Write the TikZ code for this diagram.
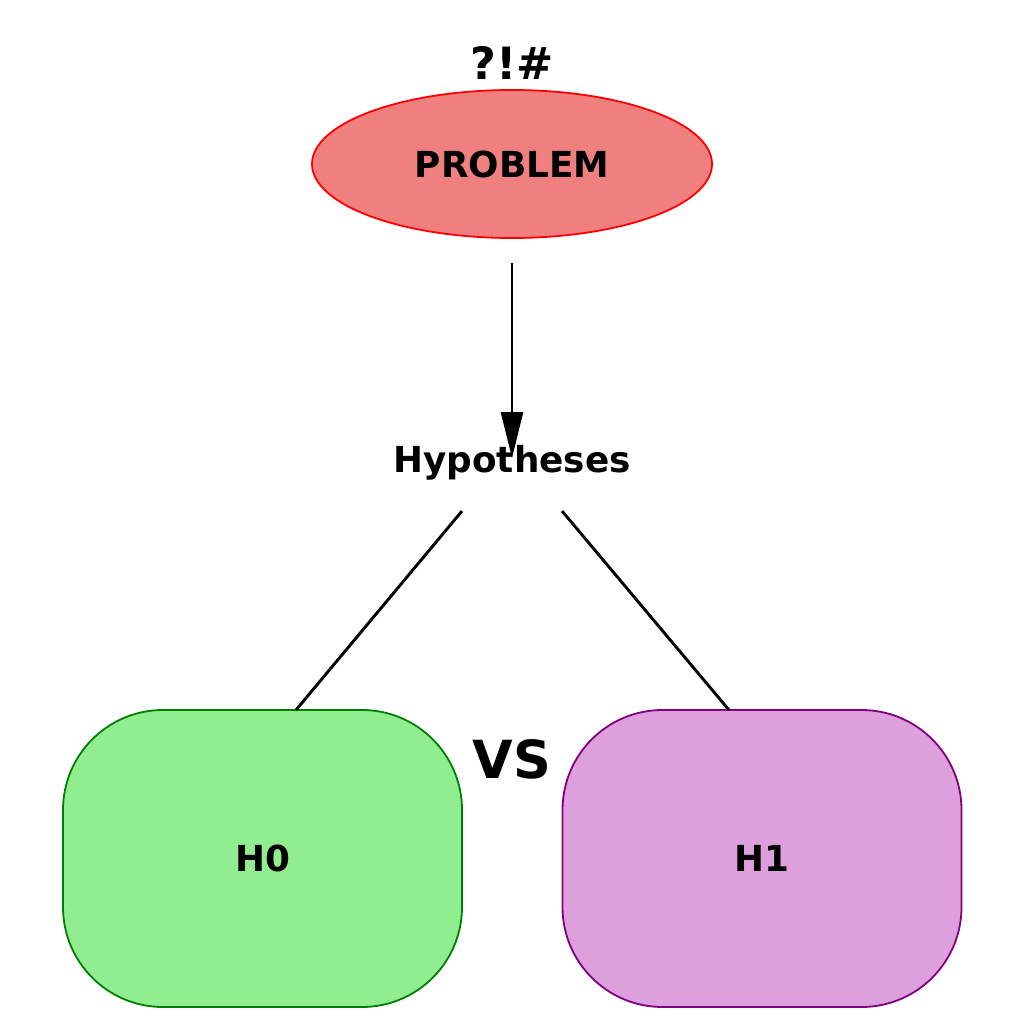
\documentclass[tikz,border=0pt]{standalone}
\usepackage{fontspec}
\setmainfont{DejaVu Sans}
\usetikzlibrary{shapes.geometric,arrows.meta}
\definecolor{lcoral}{HTML}{F08080}
\definecolor{lgreen}{HTML}{90EE90}
\definecolor{dgreen}{HTML}{008000}
\definecolor{plumc}{HTML}{DDA0DD}
\definecolor{purp}{HTML}{800080}
\tikzset{
  lbl/.style={font=\bfseries\fontsize{35.8}{42}\selectfont, inner sep=0pt},
  hbox/.style={rectangle, rounded corners=100pt, minimum width=399pt, minimum height=297pt, line width=1.8pt, inner sep=0pt, font=\bfseries\fontsize{35.8}{42}\selectfont},
  conn/.style={line width=2.9pt},
}
\begin{document}
\begin{tikzpicture}[x=1pt,y=-1pt]
\useasboundingbox (0,0) rectangle (1024,1024);
\node[font=\bfseries\fontsize{44.5}{50}\selectfont, inner sep=0pt] (sym) at (512,63) {?!\#};
\node[ellipse, draw=red, fill=lcoral, line width=1.8pt, minimum width=400pt, minimum height=148pt, inner sep=0pt, font=\bfseries\fontsize{35.8}{42}\selectfont] (prob) at (512,164) {PROBLEM};
\node[lbl] (hyp) at (512,463) {Hypotheses};
\node[hbox, draw=dgreen, fill=lgreen] (h0) at (262.5,858.5) {H0};
\node[hbox, draw=purp, fill=plumc] (h1) at (762,858.5) {H1};
\node[font=\bfseries\fontsize{52.5}{58}\selectfont, inner sep=0pt] (vs) at (512,759) {VS};
\coordinate (a0) at (462,511);
\coordinate (a1) at (562,511);
\coordinate (b0) at (296,710);
\coordinate (b1) at (729,710);
\coordinate (s) at (512,263);
\coordinate (e) at (512,458);
\draw[conn, -{Triangle[length=46pt,width=22pt]}] (s) -- (e);
\draw[conn] (a0) -- (b0);
\draw[conn] (a1) -- (b1);
\end{tikzpicture}
\end{document}
